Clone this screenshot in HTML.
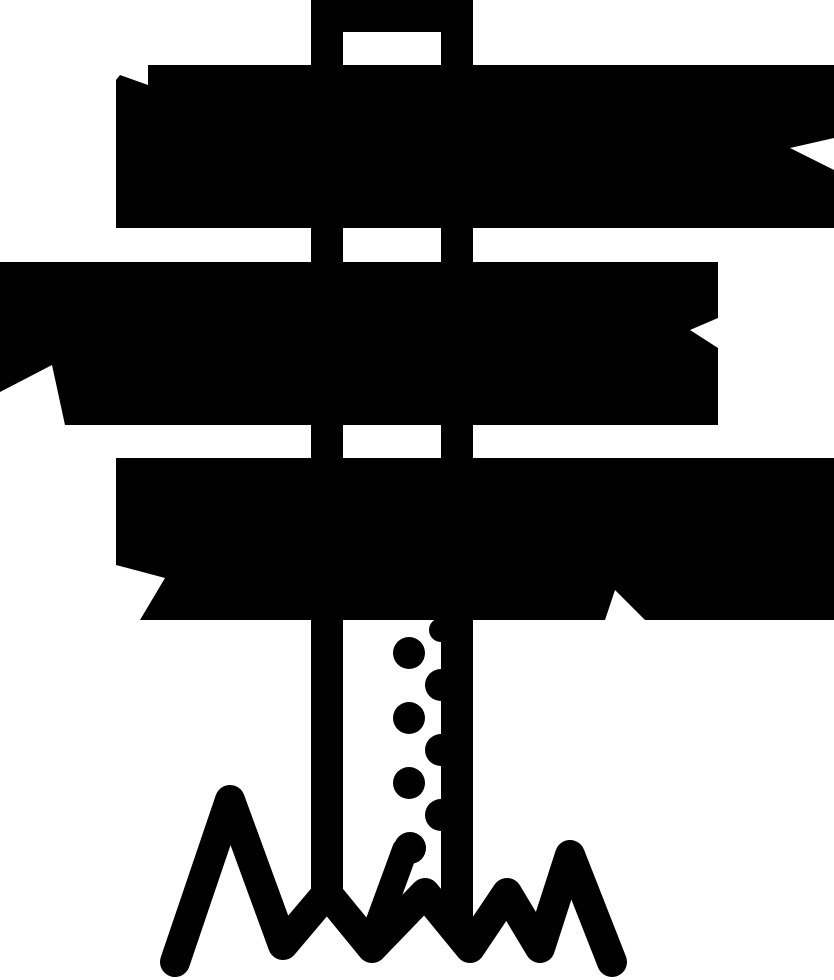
<!DOCTYPE html>
<html><head><style>html,body{margin:0;padding:0;background:#fff}svg{display:block}</style></head>
<body>
<svg width="834" height="980" viewBox="0 0 834 980" xmlns="http://www.w3.org/2000/svg">
<g fill="#000">
<rect x="311" y="0" width="162" height="32"/>
<rect x="311" y="0" width="32" height="895"/>
<rect x="441" y="0" width="32" height="930"/>
<polygon points="148,65 834,65 834,138 790,148 834,170 834,228 116,228 116,80 120,75 148,85"/>
<polygon points="0,262 718,262 718,318 690,330 718,348 718,425 65,425 52,365 0,392"/>
<polygon points="116,458 834,458 834,620 645,620 615,590 605,620 140,620 165,578 116,565"/>
<circle cx="409" cy="653" r="16"/>
<circle cx="409" cy="718" r="16"/>
<circle cx="409" cy="783" r="16"/>
<circle cx="410" cy="848" r="16"/>
<circle cx="441" cy="685" r="16"/>
<circle cx="441" cy="750" r="16"/>
<circle cx="441" cy="815" r="16"/>
<circle cx="441" cy="630" r="12"/>
</g>
<polyline points="175,962 230,800 283,945 327,893 372,948 425,893 470,948 507,893 540,948 570,855 612,962" fill="none" stroke="#000" stroke-width="30" stroke-linejoin="round" stroke-linecap="round"/>
<line x1="405" y1="850" x2="372" y2="940" stroke="#000" stroke-width="26" stroke-linecap="round"/>
</svg>
</body></html>
